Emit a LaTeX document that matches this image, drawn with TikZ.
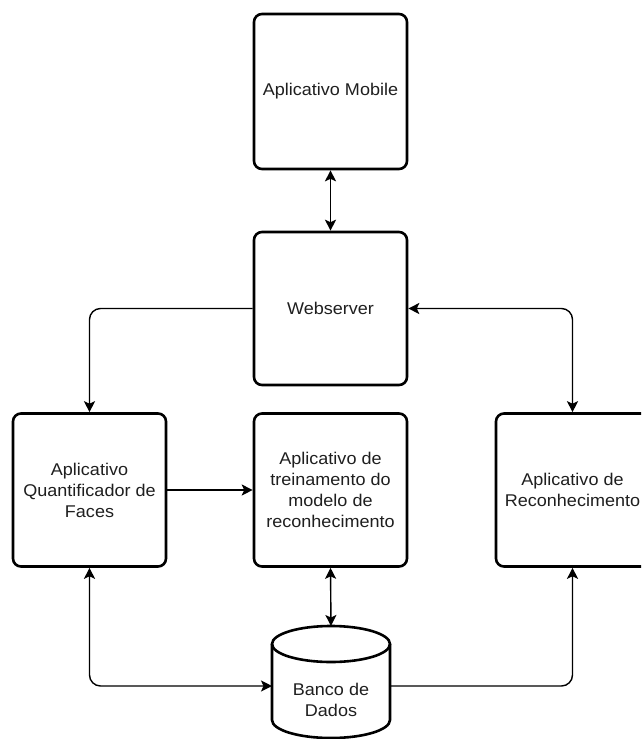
\documentclass[tikz,border=0pt]{standalone}
\usepackage{fontspec}
\setmainfont[FakeStretch=1.06]{Liberation Sans}
\usetikzlibrary{arrows.meta}

\begin{document}
\begin{tikzpicture}[x=1pt,y=-1pt,
  block/.style={draw=black, line width=2.6pt, rounded corners=8pt, fill=white,
    minimum width=153pt, minimum height=153pt, inner sep=0pt, align=center,
    text=black!88, font=\fontsize{17}{21}\selectfont},
  label text/.style={align=center, text=black!88, font=\fontsize{17}{21}\selectfont, inner sep=0pt},
  conn/.style={draw=black, line width=1.4pt, rounded corners=11pt},
  tip/.tip={Stealth[length=11pt,width=11pt,inset=2.5pt]}
]
\useasboundingbox (0,0) rectangle (641,739);
\clip (0,0) rectangle (641,739);
\fill[white] (0,0) rectangle (641,739);

% application blocks
\node[block, minimum height=155pt] (mob) at (330.5,91.5) {Aplicativo Mobile};
\node[block] (web) at (330.5,308.5) {Webserver};
\node[block] (quant) at (89.5,490) {Aplicativo\\Quantificador de\\Faces};
\node[block] (treino) at (330.5,490) {Aplicativo de\\treinamento do\\modelo de\\reconhecimento};
\node[block] (recon) at (572.5,490) {Aplicativo de\\Reconhecimento};

% database cylinder
\draw[line width=2.6pt, fill=white]
  (272,644) -- (272,720) arc[start angle=180, end angle=0, x radius=59, y radius=18]
  -- (390,644);
\draw[line width=2.6pt] (331,644) ellipse [x radius=59, y radius=18];
\node[label text] (db) at (331,700) {Banco de\\Dados};
\coordinate (dbT) at (331,626);
\coordinate (dbL) at (272,686);
\coordinate (dbR) at (390,686);

% connectors
\draw[conn, {tip}-{tip}] (mob.south) -- (web.north);
\draw[conn, -{tip}] (web.west) -| (quant.north);
\draw[conn, {tip}-{tip}] (web.east) -| (recon.north);
\draw[conn, -{tip}] (quant.east) -- (treino.west);
\draw[conn, {tip}-{tip}] (treino.south) -- (dbT);
\draw[conn, {tip}-{tip}] (quant.south) |- (dbL);
\draw[conn, -{tip}] (dbR) -| (recon.south);
\end{tikzpicture}
\end{document}
